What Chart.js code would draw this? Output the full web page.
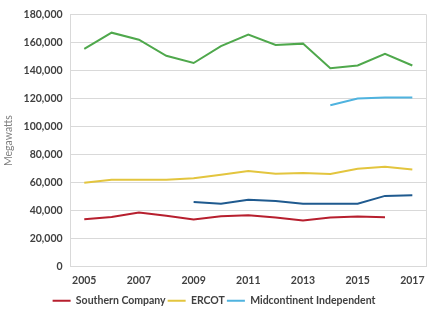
<!DOCTYPE html>
<html>
<head>
<meta charset="utf-8">
<script src="https://cdn.jsdelivr.net/npm/chart.js@4"></script>
<style>
  html, body { margin: 0; padding: 0; background: #fff; overflow: hidden; }
  #wrap { width: 437px; height: 316px; }
</style>
</head>
<body>
<div id="wrap"><canvas id="peakChart"></canvas></div>
<script>
const years = ["2005", "2006", "2007", "2008", "2009", "2010", "2011", "2012", "2013", "2014", "2015", "2016", "2017"];

// peak load, megawatts
const southern = [34000, 35600, 38800, 36500, 33800, 36100, 36800, 35200, 33100, 35200, 35900, 35400, null];
const ercot = [60000, 62100, 62100, 62100, 63200, 65700, 68300, 66400, 66900, 66200, 69900, 71300, 69400];
const miso = [null, null, null, null, null, null, null, null, null, 115200, 120000, 120700, 120700];
const pjm = [155400, 166900, 161900, 150400, 145300, 157300, 165500, 158200, 159100, 141600, 143500, 151900, 143500];
const spp = [null, null, null, null, 46200, 45000, 47800, 46900, 45000, 45000, 45000, 50600, 51000];

// the source image only shows the first legend row
const legendShown = ["Southern Company", "ERCOT", "Midcontinent Independent"];

const FONT = "Lato, 'Open Sans', sans-serif";

// thin line on the right edge of the plot, like the original
const frame = {
  id: "frame",
  afterDraw(chart) {
    const { ctx, chartArea: a } = chart;
    ctx.save();
    ctx.strokeStyle = "#d9d9d9";
    ctx.lineWidth = 1;
    ctx.beginPath();
    ctx.moveTo(a.right + 0.5, a.top);
    ctx.lineTo(a.right + 0.5, a.bottom);
    ctx.stroke();
    ctx.restore();
  }
};

function series(label, data, color) {
  return {
    label: label,
    data: data,
    borderColor: color,
    backgroundColor: color,
    borderWidth: 2,
    pointRadius: 0,
    tension: 0,
    spanGaps: false
  };
}

new Chart(document.getElementById("peakChart"), {
  type: "line",
  data: {
    labels: years,
    datasets: [
      series("Southern Company", southern, "#b71f2e"),
      series("ERCOT", ercot, "#e3c53e"),
      series("Midcontinent Independent", miso, "#4fb3df"),
      series("PJM Interconnection", pjm, "#4fa84c"),
      series("Southwest Power Pool", spp, "#1f5a8f")
    ]
  },
  options: {
    responsive: true,
    maintainAspectRatio: false,
    animation: false,
    layout: { padding: { top: 2, right: 11, left: 2, bottom: 0 } },
    plugins: {
      legend: {
        position: "bottom",
        labels: {
          usePointStyle: true,
          pointStyle: "line",
          pointStyleWidth: 18,
          color: "#404040",
          padding: 2,
          font: { family: FONT, size: 10.5, weight: "bold" },
          filter: item => legendShown.includes(item.text)
        }
      },
      tooltip: { enabled: false }
    },
    scales: {
      x: {
        offset: true,
        grid: { display: false, drawTicks: false },
        border: { color: "#d9d9d9" },
        ticks: {
          autoSkip: false,
          maxRotation: 0,
          padding: 7,
          color: "#404040",
          font: { family: FONT, size: 10.5, weight: "bold" },
          callback: function(v, i) { return i % 2 === 0 ? years[i] : ""; }
        }
      },
      y: {
        min: 0,
        max: 180000,
        grid: { color: "#d9d9d9", drawTicks: false },
        border: { color: "#d9d9d9" },
        title: {
          display: true,
          text: "Megawatts",
          color: "#7f7f7f",
          font: { family: FONT, size: 10.5 },
          padding: { top: 0, bottom: 1 }
        },
        ticks: {
          stepSize: 20000,
          padding: 8,
          color: "#404040",
          font: { family: FONT, size: 10.5, weight: "bold" },
          callback: v => v.toLocaleString("en-US")
        }
      }
    }
  },
  plugins: [frame]
});
</script>
</body>
</html>
